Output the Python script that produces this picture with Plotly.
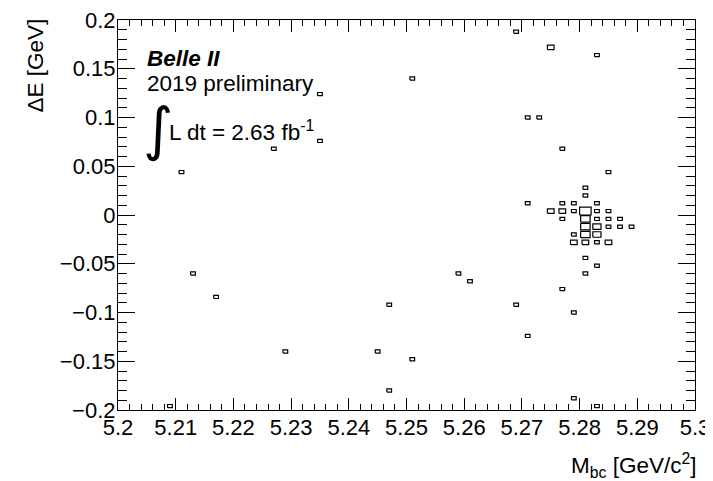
import plotly.graph_objects as go

# Histogram binning (50 x 50 bins)
X_MIN, X_MAX, NX = 5.2, 5.3, 50
Y_MIN, Y_MAX, NY = -0.2, 0.2, 50

# Occupied bins: bin centres and contents
mbc_centers = [
    5.269, 5.275, 5.283, 5.235, 5.251, 5.271, 5.273, 5.235, 5.227, 5.277,
    5.211, 5.285, 5.213, 5.217, 5.259, 5.261, 5.247, 5.269, 5.279, 5.271,
    5.229, 5.245, 5.251, 5.247, 5.279, 5.209, 5.283, 5.277, 5.281, 5.283,
    5.281,
    5.281, 5.281, 5.271, 5.277, 5.279, 5.283,
    5.275, 5.277, 5.279, 5.281, 5.283, 5.285,
    5.277, 5.281, 5.283, 5.285, 5.287,
    5.281, 5.283, 5.285, 5.287, 5.289,
    5.279, 5.281, 5.283,
    5.279, 5.281, 5.283, 5.285,
]
de_centers = [
    0.188, 0.172, 0.164, 0.124, 0.140, 0.100, 0.100, 0.076, 0.068, 0.068,
    0.044, 0.044, -0.060, -0.084, -0.060, -0.068, -0.092, -0.092, -0.100, -0.124,
    -0.140, -0.140, -0.148, -0.180, -0.188, -0.196, -0.196, -0.076, -0.044, -0.052,
    -0.060,
    0.028, 0.020, 0.012, 0.012, 0.012, 0.012,
    0.004, 0.004, 0.004, 0.004, 0.004, 0.004,
    -0.004, -0.004, -0.004, -0.004, -0.004,
    -0.012, -0.012, -0.012, -0.012, -0.012,
    -0.020, -0.020, -0.020,
    -0.028, -0.028, -0.028, -0.028,
]
counts = [
    1, 2, 1, 1, 1, 1, 1, 1, 1, 1,
    1, 1, 1, 1, 1, 1, 1, 1, 1, 1,
    1, 1, 1, 1, 1, 1, 1, 1, 1, 1,
    1,
    1, 1, 1, 1, 1, 1,
    2, 2, 1, 6, 1, 1,
    1, 4, 1, 1, 1,
    4, 3, 1, 1, 1,
    1, 4, 3,
    2, 2, 1, 2,
]

x_tick_vals = [5.2, 5.21, 5.22, 5.23, 5.24, 5.25, 5.26, 5.27, 5.28, 5.29, 5.3]
x_tick_text = ["5.2", "5.21", "5.22", "5.23", "5.24", "5.25", "5.26", "5.27", "5.28", "5.29", "5.3"]
y_tick_vals = [-0.2, -0.15, -0.1, -0.05, 0, 0.05, 0.1, 0.15, 0.2]
y_tick_text = ["\u22120.2", "\u22120.15", "\u22120.1", "\u22120.05", "0", "0.05", "0.1", "0.15", "0.2"]

# ROOT "BOX" style: box area proportional to bin content
bw_x = (X_MAX - X_MIN) / NX
bw_y = (Y_MAX - Y_MIN) / NY
zmax = max(counts)
bx, by = [], []
for xc, yc, c in zip(mbc_centers, de_centers, counts):
    r = (c / zmax) ** 0.5
    hx, hy = 0.5 * bw_x * r, 0.5 * bw_y * r
    bx += [xc - hx, xc + hx, xc + hx, xc - hx, xc - hx, None]
    by += [yc - hy, yc - hy, yc + hy, yc + hy, yc - hy, None]

FONT = "Liberation Sans, Arial, sans-serif"
TS = 22
fig = go.Figure()
fig.add_trace(go.Scatter(x=bx, y=by, mode="lines", line=dict(color="black", width=1.2),
                         hoverinfo="skip", showlegend=False))

# page body has an 8px margin: figure is 705x473 so it ends at the window edge
fig.update_layout(
    width=705, height=473,
    margin=dict(l=110, r=18, t=12, b=71, autoexpand=False),
    paper_bgcolor="white", plot_bgcolor="white",
    font=dict(family=FONT, size=TS, color="black"),
    showlegend=False,
    xaxis=dict(range=[X_MIN, X_MAX], tickvals=x_tick_vals, ticktext=x_tick_text,
               ticks="inside", ticklen=12, tickwidth=1.2, tickcolor="black",
               minor=dict(dtick=0.002, tick0=5.2, ticks="inside", ticklen=6,
                          tickwidth=1.2, tickcolor="black"),
               showline=True, linecolor="black", linewidth=1.2, mirror="ticks",
               showgrid=False, zeroline=False, automargin=False,
               ticklabeloverflow="allow",
               tickfont=dict(size=TS), ticklabelstandoff=-3),
    yaxis=dict(range=[Y_MIN, Y_MAX], tickvals=y_tick_vals, ticktext=y_tick_text,
               ticks="inside", ticklen=17, tickwidth=1.2, tickcolor="black",
               minor=dict(dtick=0.01, tick0=-0.2, ticks="inside", ticklen=9,
                          tickwidth=1.2, tickcolor="black"),
               showline=True, linecolor="black", linewidth=1.2, mirror="ticks",
               showgrid=False, zeroline=False, automargin=False,
               ticklabeloverflow="allow",
               tickfont=dict(size=TS), ticklabelstandoff=-3),
)

# helpers: convert page pixel positions (plot area 118..695 x 20..410) to paper units
def px_x(p):
    return (p - 118) / 577.0

def px_y(p):
    return (410 - p) / 390.0

fig.add_annotation(text="\u0394E [GeV]", textangle=-90, xref="paper", yref="paper",
                   x=px_x(35), y=px_y(65.5), xanchor="center", yanchor="middle",
                   showarrow=False, font=dict(size=22.5))
fig.add_annotation(text="M<sub>bc</sub> [GeV/c<sup>2</sup>]", xref="paper", yref="paper",
                   x=px_x(698), y=px_y(465), xanchor="right", yanchor="middle",
                   showarrow=False, font=dict(size=22.5))
fig.add_annotation(text="<b><i>Belle II</i></b>", xref="paper", yref="paper",
                   x=px_x(145), y=px_y(59), xanchor="left", yanchor="middle",
                   showarrow=False, font=dict(size=22.5))
fig.add_annotation(text="2019 preliminary", xref="paper", yref="paper",
                   x=px_x(145), y=px_y(83), xanchor="left", yanchor="middle",
                   showarrow=False, font=dict(size=22.5))
fig.add_annotation(text="\u222b", xref="paper", yref="paper",
                   x=px_x(141), y=px_y(129), xanchor="left", yanchor="middle",
                   showarrow=False, font=dict(size=58, family="DejaVu Sans"))
fig.add_annotation(text="L dt = 2.63 fb<sup>-1</sup>", xref="paper", yref="paper",
                   x=px_x(167), y=px_y(131), xanchor="left", yanchor="middle",
                   showarrow=False, font=dict(size=22.5))

fig.write_html("out.html")
